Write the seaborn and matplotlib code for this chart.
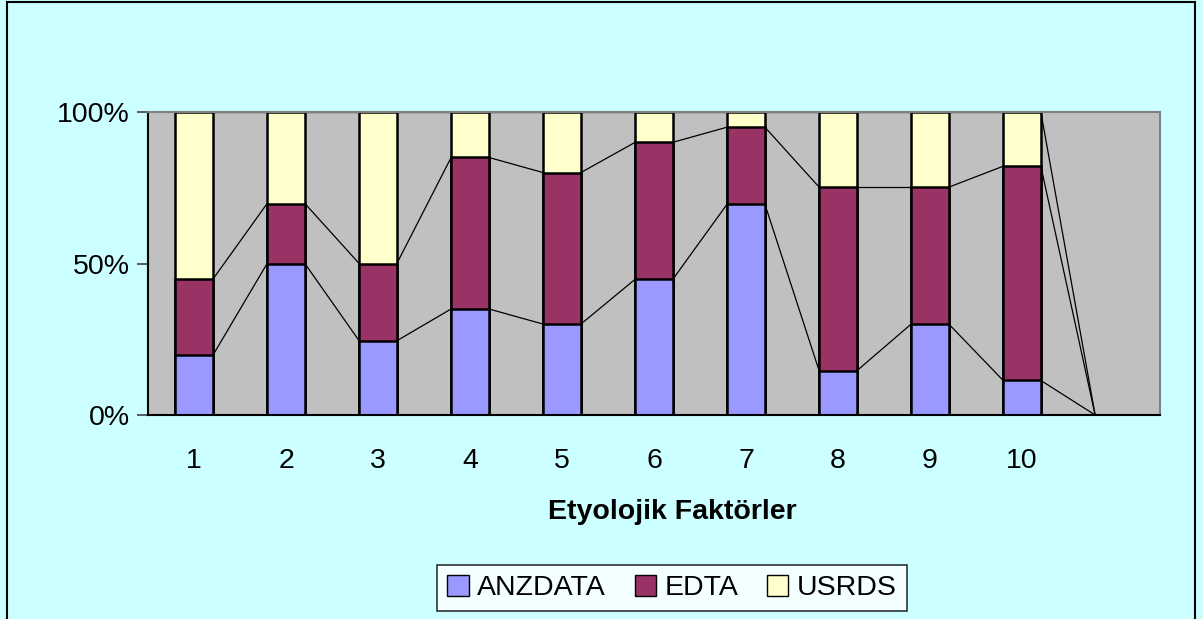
import matplotlib
matplotlib.use("Agg")
import matplotlib.pyplot as plt
import seaborn as sns
import pandas as pd
import numpy as np
from matplotlib.patches import Patch, Rectangle

# data (percent shares), category 11 is empty
categories = ["1", "2", "3", "4", "5", "6", "7", "8", "9", "10", "11"]
anzdata = [19.7, 50, 24.5, 35, 30, 44.8, 69.6, 14.6, 30, 11.4, 0]
edta = [25.1, 19.8, 25.5, 50, 50, 45.2, 25.4, 60.6, 45.2, 70.7, 0]
usrds = [55.2, 30.2, 50, 15, 20, 10, 5, 24.8, 24.8, 17.9, 0]
series_names = ["ANZDATA", "EDTA", "USRDS"]
colors = ["#9999FF", "#993366", "#FFFFCC"]

df = pd.DataFrame({"cat": categories, "ANZDATA": anzdata, "EDTA": edta, "USRDS": usrds})
df["lvl1"] = df["ANZDATA"]
df["lvl2"] = df["ANZDATA"] + df["EDTA"]
df["lvl3"] = df["lvl2"] + df["USRDS"]

sns.set_style("white")
plt.rcParams["font.family"] = ["Liberation Sans", "DejaVu Sans"]
plt.rcParams["text.color"] = "black"
plt.rcParams["xtick.color"] = "black"
plt.rcParams["ytick.color"] = "black"
plt.rcParams["axes.labelcolor"] = "black"

fig = plt.figure(figsize=(12.03, 6.19), dpi=100, facecolor="#CCFFFF")
ax = fig.add_axes([148 / 1203, 1 - 415 / 619, (1160 - 148) / 1203, (415 - 112) / 619])
ax.set_facecolor("#C0C0C0")

bw = 0.41
# stacked bars: draw cumulative totals from the top down
for col, c in zip(["lvl3", "lvl2", "lvl1"], colors[::-1]):
    sns.barplot(data=df, x="cat", y=col, color=c, width=bw, edgecolor="black",
                linewidth=1.8, saturation=1, ax=ax, errorbar=None)

# series lines between neighbouring bars (right edge -> next left edge)
x = np.arange(len(categories))
for col in ["lvl1", "lvl2", "lvl3"]:
    v = df[col].values
    for i in range(len(v) - 1):
        ax.plot([x[i] + bw / 2, x[i + 1] - bw / 2], [v[i], v[i + 1]],
                color="black", lw=0.9, zorder=1)

ax.set_xlim(-0.5, len(categories) - 0.5)
ax.set_ylim(0, 100)
ax.set_yticks([0, 50, 100])
ax.set_yticklabels(["0%", "50%", "100%"], fontsize=20.5)
ax.set_xticks(x)
ax.set_xticklabels(categories[:-1] + [""], fontsize=20.5)
ax.tick_params(axis="y", length=8, width=1.2, color="#404040", pad=5, left=True,
               labelcolor="black")
ax.tick_params(axis="x", length=0, pad=24, labelcolor="black")
ax.set_ylabel("")
ax.set_xlabel("")
for s in ax.spines.values():
    s.set_color("#808080")
    s.set_linewidth(1.5)
    s.set_visible(True)
ax.spines["bottom"].set_color("black")
ax.spines["left"].set_color("black")

fig.text(672 / 1203, 1 - 512 / 619, "Etyolojik Faktörler", ha="center", va="center",
         fontsize=20.5, fontweight="bold", color="black")

handles = [Patch(facecolor=c, edgecolor="black", linewidth=1) for c in colors]
leg = fig.legend(handles, series_names, loc="center", ncol=3,
                 bbox_to_anchor=(672 / 1203, 1 - 588 / 619), fontsize=20.5,
                 frameon=True, fancybox=False, edgecolor="black",
                 handlelength=0.75, handleheight=0.75, handletextpad=0.3,
                 columnspacing=1.0, borderpad=0.35, borderaxespad=0)
leg.get_frame().set_facecolor("white")
leg.get_frame().set_linewidth(1.2)
for t in leg.get_texts():
    t.set_color("black")

# outer chart frame
fig.patches.append(Rectangle((7 / 1203, -0.01), (1195 - 7) / 1203, 1 - 2 / 619 + 0.01,
                             transform=fig.transFigure, fill=False,
                             edgecolor="black", linewidth=1.5))

fig.savefig("out.png", dpi=100, facecolor=fig.get_facecolor())
